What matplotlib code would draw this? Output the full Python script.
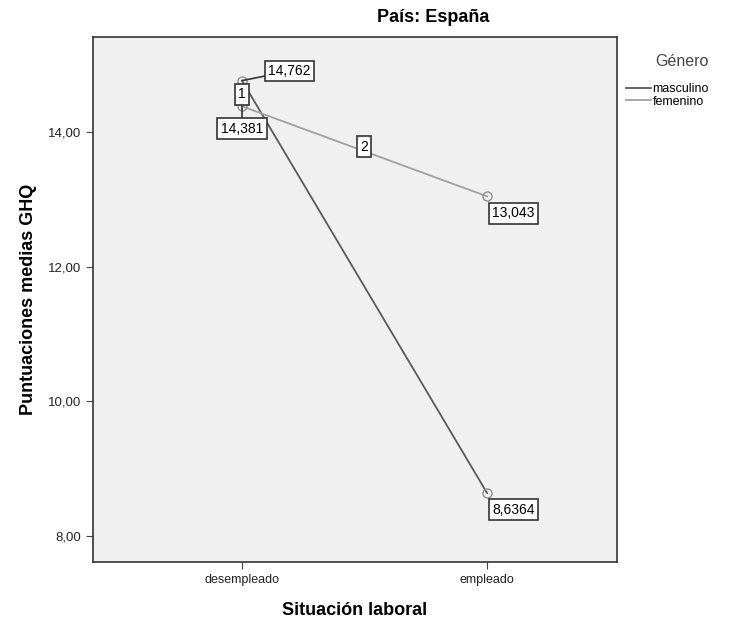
import matplotlib.pyplot as plt
from matplotlib.lines import Line2D

plt.rcParams['font.family'] = ['Liberation Sans', 'DejaVu Sans']

categories = ['desempleado', 'empleado']
series_names = ['masculino', 'femenino']
masculino = [14.762, 8.6364]
femenino = [14.381, 13.043]
value_labels_m = ['14,762', '8,6364']
value_labels_f = ['14,381', '13,043']
yticks = [8, 10, 12, 14]

colors = ['#5a5a5a', '#a0a0a0']

fig = plt.figure(figsize=(7.36, 6.26), dpi=100)
ax = fig.add_axes([93 / 736, 1 - 562 / 626, 524 / 736, 525 / 626])
ax.set_facecolor('#f0f0f0')

x = [0, 1]
for vals, c in zip([masculino, femenino], colors):
    ax.plot(x, vals, color=c, lw=1.3, marker='o', ms=6.5, mfc='none',
            mec='#909090', mew=1, zorder=3)

ax.set_xlim(-0.608, 1.53)
ax.set_ylim(7.613, 15.41)
ax.set_xticks(x)
ax.set_xticklabels(categories, fontsize=9)
ax.set_yticks(yticks)
ax.set_yticklabels([f'{t:.2f}'.replace('.', ',') for t in yticks], fontsize=9.5)
ax.tick_params(length=5, color='#444444', labelcolor='#222222')
for s in ax.spines.values():
    s.set_color('#333333')
    s.set_linewidth(1.2)

box = dict(boxstyle='square,pad=0.25', fc='white', ec='#333333', lw=1.2)
# value boxes
ax.annotate(value_labels_m[0], xy=(0, masculino[0]), xytext=(0.108, 14.905),
            fontsize=10, bbox=box, ha='left', va='center',
            arrowprops=dict(arrowstyle='-', color='#333333', lw=1.2, shrinkA=0, shrinkB=0))
ax.annotate(value_labels_f[0], xy=(0, femenino[0]), xytext=(0.0, 14.05),
            fontsize=10, bbox=box, ha='center', va='center',
            arrowprops=dict(arrowstyle='-', color='#333333', lw=1.2, shrinkA=0, shrinkB=0))
ax.text(1.02, femenino[1] - 0.25, value_labels_f[1], fontsize=10, bbox=box,
        ha='left', va='center')
ax.text(1.02, masculino[1] - 0.25, value_labels_m[1], fontsize=10, bbox=box,
        ha='left', va='center')
# line id boxes
ax.text(0.0, 14.56, '1', fontsize=10, bbox=box, ha='center', va='center', zorder=4)
ax.text(0.498, 13.78, '2', fontsize=10, bbox=box, ha='center', va='center', zorder=4)

ax.set_xlabel('Situación laboral', fontsize=13, fontweight='bold', labelpad=12)
ax.set_ylabel('Puntuaciones medias GHQ', fontsize=13, fontweight='bold', labelpad=8)
fig.text(433 / 736, 1 - 18 / 626, 'País: España', fontsize=13, fontweight='bold',
         ha='center', va='center')

handles = [Line2D([0], [0], color=c, lw=1.3) for c in colors]
leg = fig.legend(handles, series_names, title='Género', loc='upper left',
                 bbox_to_anchor=(620 / 736, 1 - 48 / 626), frameon=False,
                 fontsize=9, title_fontsize=11.5, handlelength=2.0,
                 handletextpad=0.1, labelspacing=0.05, borderpad=0)
leg._legend_box.align = 'right'
leg._legend_box.sep = 10
leg.get_title().set_color('#444444')

fig.savefig('out.png', dpi=100, facecolor='white')
